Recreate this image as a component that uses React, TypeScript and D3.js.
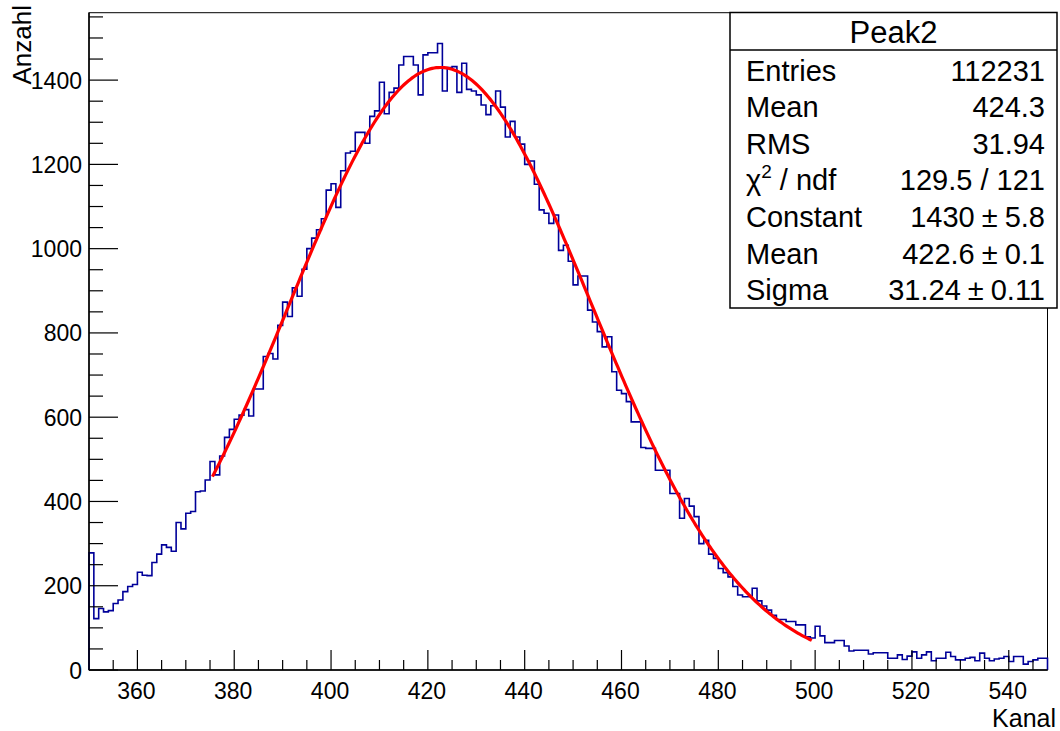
import React from "react";
import * as d3 from "d3";

// ---- data ----
const FIRST_BIN = 350; // lower edge of first channel, bin width 1
const COUNTS: number[] = [
  278, 122, 146, 138, 141, 158, 166, 186, 198, 203,
  232, 225, 224, 255, 275, 297, 291, 282, 350, 335,
  372, 376, 423, 425, 451, 495, 463, 508, 552, 571,
  595, 605, 618, 603, 667, 667, 744, 751, 738, 818,
  873, 839, 907, 887, 951, 1000, 1025, 1045, 1071, 1139,
  1154, 1098, 1185, 1227, 1231, 1276, 1276, 1250, 1314, 1327,
  1395, 1320, 1371, 1381, 1436, 1456, 1456, 1436, 1365, 1460,
  1465, 1465, 1487, 1374, 1430, 1432, 1371, 1440, 1378, 1374,
  1365, 1341, 1318, 1339, 1374, 1336, 1265, 1302, 1265, 1248,
  1200, 1208, 1153, 1092, 1084, 1060, 1080, 996, 1008, 970,
  914, 935, 935, 854, 826, 803, 767, 791, 708, 664,
  656, 637, 589, 589, 528, 526, 526, 474, 474, 474,
  419, 419, 360, 407, 389, 364, 300, 308, 275, 265,
  241, 231, 221, 198, 178, 174, 174, 194, 164, 152,
  142, 130, 120, 120, 115, 115, 107, 107, 79, 76,
  104, 81, 65, 65, 70, 70, 57, 45, 47, 47,
  47, 38, 41, 41, 41, 28, 28, 36, 25, 33,
  43, 28, 36, 43, 22, 28, 28, 42, 32, 24,
  24, 28, 30, 22, 40, 28, 22, 26, 28, 32,
  20, 32, 32, 14, 20, 24, 28, 28,
];
const X_DOMAIN = [350, 548];
const Y_DOMAIN = [0, 1560];
const X_MAJOR = [360, 380, 400, 420, 440, 460, 480, 500, 520, 540];
const X_MINOR_STEP = 5;
const Y_MAJOR = [0, 200, 400, 600, 800, 1000, 1200, 1400];
const Y_MINOR_STEP = 50;

const FIT_CONSTANT = 1430;
const FIT_MEAN = 422.6;
const FIT_SIGMA = 31.24;
const FIT_RANGE = [375.5, 499.3];

const HIST_TITLE = "Peak2";
const STATS_LABELS = ["Entries", "Mean", "RMS", "CHI2", "Constant", "Mean", "Sigma"];
const STATS_VALUES = ["112231", "424.3", "31.94", "129.5 / 121", "1430", "422.6", "31.24"];
const STATS_ERRORS = ["", "", "", "", "5.8", "0.1", "0.11"];
const X_TITLE = "Kanal";
const Y_TITLE = "Anzahl";

const FONT = "'Liberation Sans', Arial, Helvetica, sans-serif";

export default function App() {
  const W = 1060, H = 731;
  const left = 89, right = 1047.5, top = 12.7, bottom = 670;
  const x = d3.scaleLinear().domain(X_DOMAIN).range([left, right]);
  const y = d3.scaleLinear().domain(Y_DOMAIN).range([bottom, top]);

  const pts: [number, number][] = [[FIRST_BIN, 0]];
  COUNTS.forEach((c, i) => {
    pts.push([FIRST_BIN + i, c]);
    pts.push([FIRST_BIN + i + 1, c]);
  });
  pts.push([FIRST_BIN + COUNTS.length, 0]);
  const histPath = d3.line<[number, number]>().x(d => x(d[0])).y(d => y(d[1]))(pts) || "";

  const gauss = (v: number) => FIT_CONSTANT * Math.exp(-0.5 * Math.pow((v - FIT_MEAN) / FIT_SIGMA, 2));
  const fitPts: [number, number][] = d3.range(0, 301).map(i => {
    const v = FIT_RANGE[0] + (FIT_RANGE[1] - FIT_RANGE[0]) * i / 300;
    return [v, gauss(v)];
  });
  const fitPath = d3.line<[number, number]>().x(d => x(d[0])).y(d => y(d[1]))(fitPts) || "";

  const xMinor = d3.range(X_DOMAIN[0], X_DOMAIN[1] + 0.001, X_MINOR_STEP).filter(v => !X_MAJOR.includes(v) && v > X_DOMAIN[0]);
  const yMinor = d3.range(Y_MINOR_STEP, Y_DOMAIN[1], Y_MINOR_STEP).filter(v => !Y_MAJOR.includes(v));

  const boxX = 730, boxY = 12.5, boxW = 327, boxH = 295.5;
  const rowBase = 80.5, rowStep = 36.6;
  const statFont = 29;

  return (
    <svg width={W} height={H} style={{ position: "absolute", left: 0, top: 0, background: "#fff" }} fontFamily={FONT}>
      <rect x={0} y={0} width={W} height={H} fill="#fff" />
      {/* frame */}
      <rect x={left} y={top} width={right - left} height={bottom - top} fill="none" stroke="#000" strokeWidth={1} />
      {/* histogram */}
      <path d={histPath} fill="none" stroke="#000099" strokeWidth={1.6} />
      {/* fit */}
      <path d={fitPath} fill="none" stroke="#ff0000" strokeWidth={3.2} />
      {/* axes */}
      <line x1={left} x2={right} y1={bottom} y2={bottom} stroke="#000" strokeWidth={1.5} />
      <line x1={left} x2={left} y1={top} y2={bottom} stroke="#000" strokeWidth={1.5} />
      {X_MAJOR.map(v => (
        <g key={"xm" + v}>
          <line x1={x(v)} x2={x(v)} y1={bottom} y2={bottom - 20} stroke="#000" strokeWidth={1.2} />
          <text x={x(v) - 1} y={699} textAnchor="middle" fontSize={23}>{v}</text>
        </g>
      ))}
      {xMinor.map(v => (
        <line key={"xn" + v} x1={x(v)} x2={x(v)} y1={bottom} y2={bottom - 10} stroke="#000" strokeWidth={1.2} />
      ))}
      {Y_MAJOR.map(v => (
        <g key={"ym" + v}>
          <line x1={left} x2={left + 29} y1={y(v)} y2={y(v)} stroke="#000" strokeWidth={1.2} />
          <text x={82} y={y(v) + 8.5} textAnchor="end" fontSize={23}>{v}</text>
        </g>
      ))}
      {yMinor.map(v => (
        <line key={"yn" + v} x1={left} x2={left + 14} y1={y(v)} y2={y(v)} stroke="#000" strokeWidth={1.2} />
      ))}
      {/* axis titles */}
      <text x={1056} y={727} textAnchor="end" fontSize={25}>{X_TITLE}</text>
      <text transform={`translate(31,5) rotate(-90)`} textAnchor="end" fontSize={26}>{Y_TITLE}</text>
      {/* stats box */}
      <rect x={boxX} y={boxY} width={boxW} height={boxH} fill="#fff" stroke="#000" strokeWidth={1.5} />
      <line x1={boxX} x2={boxX + boxW} y1={50} y2={50} stroke="#000" strokeWidth={1.5} />
      <text x={boxX + boxW / 2} y={43} textAnchor="middle" fontSize={31}>{HIST_TITLE}</text>
      {STATS_LABELS.map((lab, i) => (
        <text key={"sl" + i} x={746} y={rowBase + i * rowStep} fontSize={statFont}>
          {lab === "CHI2" ? (
            <>
              <tspan>{"\u03c7"}</tspan>
              <tspan fontSize={19} dy={-12}>2</tspan>
              <tspan dy={12}>{" / ndf"}</tspan>
            </>
          ) : lab}
        </text>
      ))}
      {STATS_VALUES.map((val, i) => (
        <text key={"sv" + i} x={1045} y={rowBase + i * rowStep} textAnchor="end" fontSize={statFont}>
          {STATS_ERRORS[i] ? (
            <>
              <tspan>{val}</tspan>
              <tspan dx={7}>{"\u00b1"}</tspan>
              <tspan dx={7}>{STATS_ERRORS[i]}</tspan>
            </>
          ) : val}
        </text>
      ))}
    </svg>
  );
}
